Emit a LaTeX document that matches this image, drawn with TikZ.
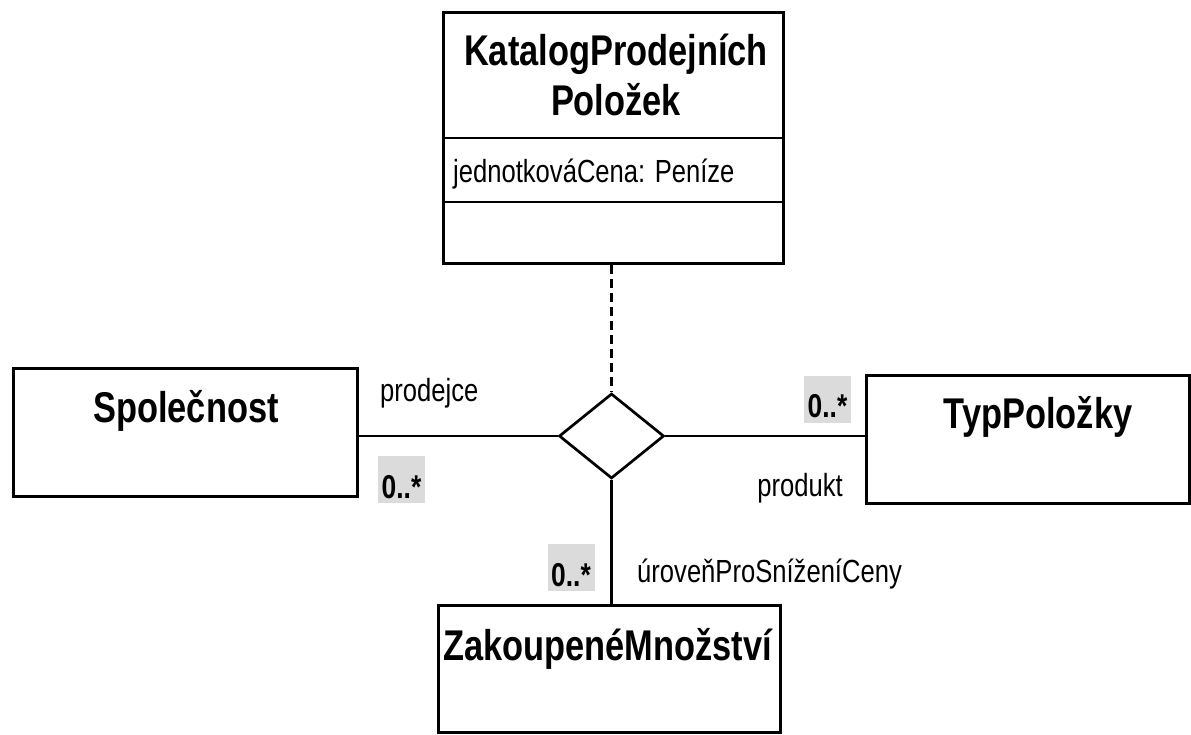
\documentclass[tikz,border=0pt]{standalone}
\usepackage{fontspec}
\setmainfont[FakeStretch=0.8]{Liberation Sans}
\usetikzlibrary{shapes.geometric}

\tikzset{
  classbox/.style={draw, rectangle, line width=3pt, inner sep=0pt},
  title/.style={font=\fontsize{43}{48}\selectfont\bfseries, inner sep=0pt},
  role/.style={font=\fontsize{32}{36}\selectfont, inner sep=0pt},
  mult/.style={fill=gray!28, font=\fontsize{33}{36}\selectfont\bfseries,
    minimum width=47, minimum height=47, inner sep=2pt, text height=39, text depth=2},
  assoc/.style={line width=2.7pt}
}

\begin{document}
\begin{tikzpicture}[x=1pt,y=-1pt]
  \useasboundingbox (0,0) rectangle (1191,734);

  % classes
  \node[classbox, minimum width=340, minimum height=251] (kat) at (613,137.5) {};
  \draw[assoc] (kat.west |- 0,138) -- (kat.east |- 0,138);
  \draw[assoc] (kat.west |- 0,202) -- (kat.east |- 0,202);
  \node[title, anchor=base] (katname1) at (616,65) {KatalogProdejních};
  \node[title, anchor=base] (katname2) at (616,115) {Položek};
  \node[role, anchor=base west] (katattr) at (453,182) {jednotkováCena: Peníze};

  \node[classbox, minimum width=344, minimum height=128] (spol) at (185,432) {};
  \node[title, anchor=base] (spolname) at (186,422) {Společnost};

  \node[classbox, minimum width=323, minimum height=128] (typ) at (1027.5,439) {};
  \node[title, anchor=base] (typname) at (1038,428) {TypPoložky};

  \node[classbox, minimum width=342, minimum height=127] (zak) at (609,668.5) {};
  \node[title, anchor=base west] (zakname) at (443,660) {ZakoupenéMnožství};

  % n-ary association
  \node[draw, diamond, line width=2.7pt, inner sep=0pt, aspect=1.24,
    minimum width=105, minimum height=85] (dia) at (611.5,436) {};

  \draw[assoc] (spol.east |- dia.west) -- (dia.west);
  \draw[assoc] (dia.east) -- (typ.west |- dia.east);
  \draw[assoc] (dia.south) -- (zak.north -| dia.south);
  \draw[assoc, line width=3.2pt, dash pattern=on 9pt off 5pt] (kat.south -| dia.north) -- (dia.north);

  % roles and multiplicities
  \node[role, anchor=base west] (prodejce) at (380,401) {prodejce};
  \node[mult] (mspol) at (401.5,479.5) {0..*};
  \node[mult] (mtyp) at (827.5,399) {0..*};
  \node[role, anchor=base east] (produkt) at (843,496) {produkt};
  \node[mult] (mzak) at (571,567.5) {0..*};
  \node[role, anchor=base west] (uroven) at (637,582) {úroveňProSníženíCeny};
\end{tikzpicture}
\end{document}
